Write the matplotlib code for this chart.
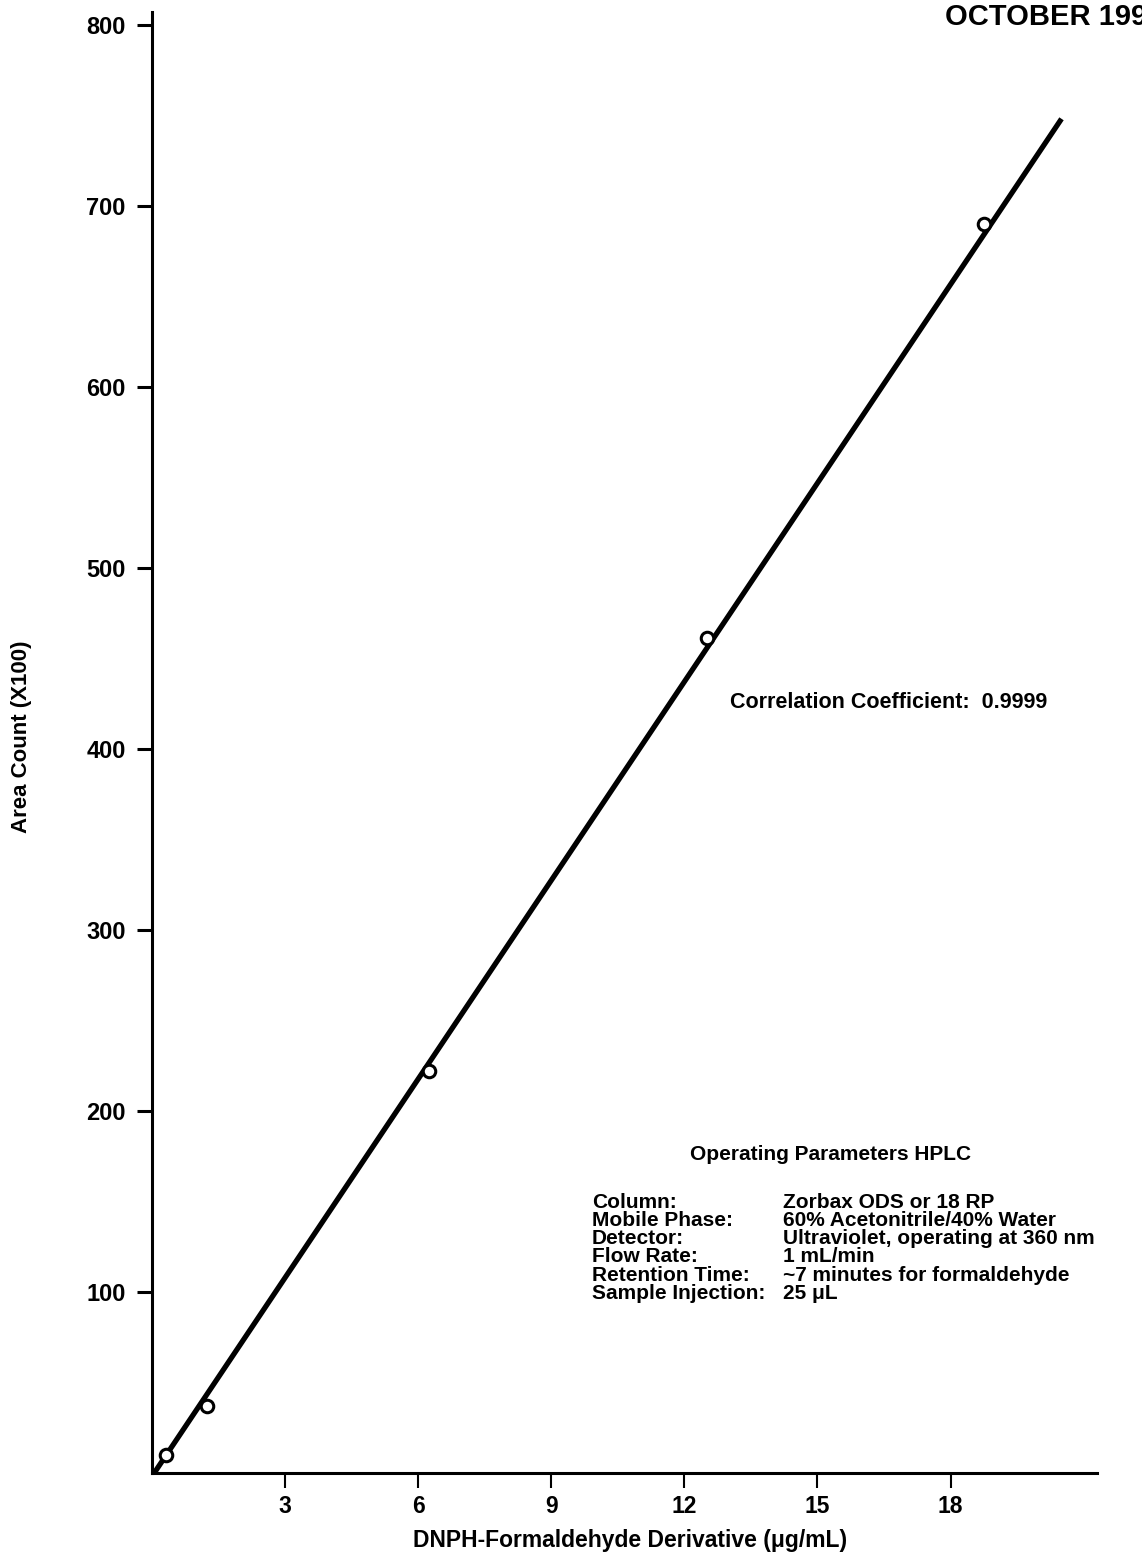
import numpy as np
import matplotlib
matplotlib.use('Agg')
from matplotlib import pyplot as plt

# calibration standards
conc = [0.31, 1.25, 6.25, 12.5, 18.75]      # ug/mL
area = [10, 37, 222, 461, 690]              # area count x100

# drawn regression line (end points)
fit_x = [0.05, 20.5]
fit_y = [0, 748]

x_ticks = [3, 6, 9, 12, 15, 18]
y_ticks = [100, 200, 300, 400, 500, 600, 700, 800]

param_names = ['Column:', 'Mobile Phase:', 'Detector:', 'Flow Rate:',
               'Retention Time:', 'Sample Injection:']
param_values = ['Zorbax ODS or 18 RP', '60% Acetonitrile/40% Water',
                'Ultraviolet, operating at 360 nm', '1 mL/min',
                '~7 minutes for formaldehyde', '25 \u03bcL']

plt.rcParams['font.family'] = ['Liberation Sans', 'DejaVu Sans']
plt.rcParams['font.weight'] = 'bold'

W, H = 1142, 1566
fig = plt.figure(figsize=(W / 100, H / 100), dpi=100)

def fx(px):
    return px / W

def fy(py):
    return 1 - py / H

ax = fig.add_axes([fx(152), fy(1473), fx(1097) - fx(152), fy(12) - fy(1473)])
ax.plot(fit_x, fit_y, color='black', lw=3.8, solid_capstyle='butt', zorder=2)
ax.plot(conc, area, 'o', ms=9, mfc='white', mec='black', mew=2.2, zorder=3)

ax.set_xlim(0, 21.3)
ax.set_ylim(0, 807)
ax.set_xticks(x_ticks)
ax.set_yticks(y_ticks)
for s in ['top', 'right']:
    ax.spines[s].set_visible(False)
for s in ['left', 'bottom']:
    ax.spines[s].set_linewidth(2.2)
ax.tick_params(axis='y', direction='out', length=11, width=2.2, pad=8, labelsize=17)
ax.tick_params(axis='x', direction='out', length=11, width=1.5, pad=5, labelsize=16.5)

fig.text(fx(630), fy(1540), 'DNPH-Formaldehyde Derivative (\u03bcg/mL)',
         ha='center', va='center', fontsize=16.5)
fig.text(fx(22), fy(737), 'Area Count (X100)', rotation=90,
         ha='center', va='center', fontsize=16)
fig.text(fx(945), fy(25), 'OCTOBER 1990', ha='left', va='baseline', fontsize=21)

fig.text(fx(730), fy(702), 'Correlation Coefficient:  0.9999',
         ha='left', va='center', fontsize=15.5)

fig.text(fx(831), fy(1155), 'Operating Parameters HPLC',
         ha='center', va='center', fontsize=15)
for i, (n, v) in enumerate(zip(param_names, param_values)):
    yy = 1202 + i * 18.3
    fig.text(fx(592), fy(yy), n, ha='left', va='center', fontsize=15)
    fig.text(fx(783), fy(yy), v, ha='left', va='center', fontsize=15)

fig.savefig('out.png', dpi=100)
